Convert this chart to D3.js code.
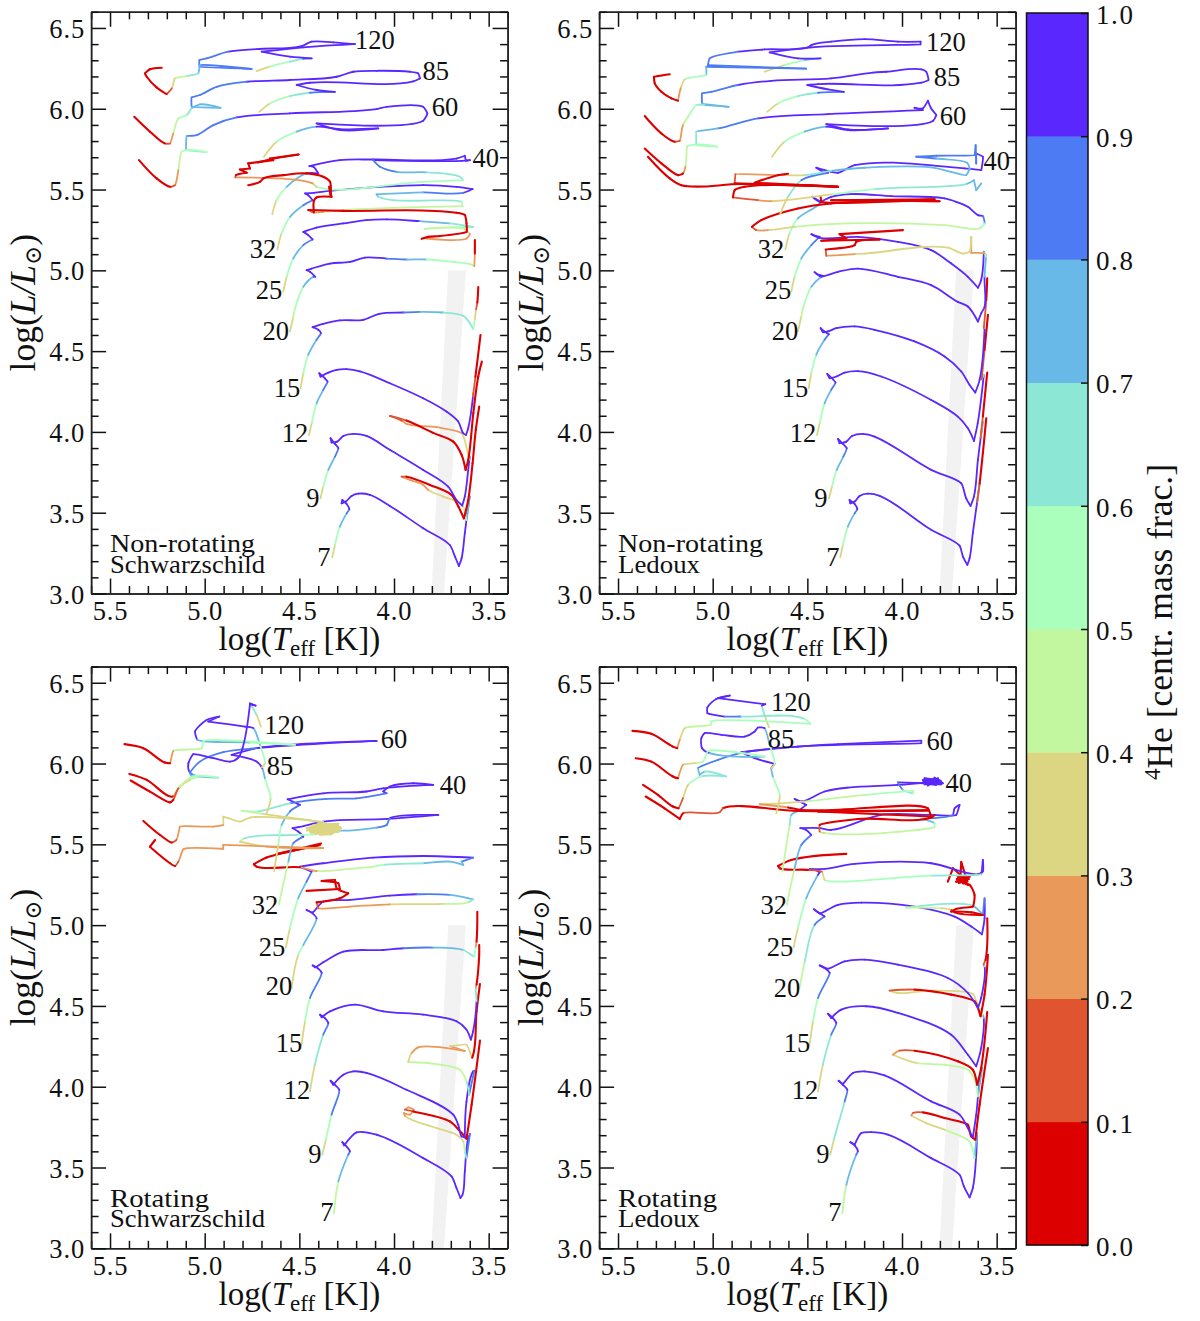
<!DOCTYPE html>
<html>
<head>
<meta charset="utf-8">
<script src="https://cdn.jsdelivr.net/npm/d3@7"></script>
<style>
  html, body { margin: 0; padding: 0; background: #fff; }
  svg { display: block; }
  text { font-family: "Liberation Serif", "DejaVu Serif", serif; fill: #111; }
</style>
</head>
<body>
<div id="chart"></div>
<script>
// each track point is [log Teff, log L, central He4]
const a7 = [[4.326,3.224,.28],[4.312,3.3,.45],[4.286,3.414,.7],[4.25,3.496,.85],[4.236,3.521,.95],[4.25,3.554,1],[4.273,3.579,1],[4.277,3.558,1],[4.254,3.569,1],[4.224,3.604,1],[4.189,3.618,1],[4.127,3.61,1],[4.022,3.542,1],[3.846,3.404,1],[3.705,3.3,1],[3.678,3.228,1],[3.657,3.17,1],[3.643,3.218,1],[3.626,3.373,1],[3.608,3.538,1],[3.6,3.6,1],[3.617,3.455,.5],[3.643,3.554,.4],[3.74,3.6,.35],[3.819,3.641,.25],[3.846,3.672,.25],[3.916,3.703,.22],[3.96,3.723,.2],[3.934,3.723,.1],[3.81,3.672,.05],[3.696,3.61,.03],[3.66,3.538,.03],[3.631,3.465,.02],[3.608,3.579,.02],[3.585,3.806,.02],[3.568,4.012,.01],[3.55,4.157,.01]];
const a9 = [[4.388,3.589,.28],[4.374,3.661,.45],[4.347,3.765,.7],[4.312,3.847,.85],[4.294,3.899,.95],[4.312,3.926,1],[4.335,3.961,1],[4.33,3.934,1],[4.3,3.94,1],[4.268,3.975,1],[4.215,3.988,1],[4.145,3.975,1],[4.022,3.889,1],[3.846,3.765,1],[3.714,3.661,1],[3.67,3.579,1],[3.64,3.544,1],[3.626,3.6,1],[3.608,3.765,1],[3.6,3.847,1],[3.604,3.827,.4],[3.643,3.992,.25],[3.775,4.029,.25],[3.934,4.05,.22],[3.96,4.07,.2],[4.022,4.099,.15],[3.934,4.07,.08],[3.793,3.994,.04],[3.687,3.94,.03],[3.643,3.858,.02],[3.622,3.765,.02],[3.608,3.827,.02],[3.581,4.116,.02],[3.555,4.343,.01],[3.536,4.435,.01]];
const a12 = [[4.449,3.981,.28],[4.435,4.054,.45],[4.409,4.177,.7],[4.374,4.26,.85],[4.351,4.312,.95],[4.365,4.332,1],[4.395,4.363,1],[4.388,4.342,1],[4.347,4.367,1],[4.303,4.384,1],[4.25,4.388,1],[4.18,4.374,1],[4.022,4.301,1],[3.846,4.208,1],[3.723,4.126,1],[3.661,4.064,1],[3.634,3.992,1],[3.62,3.981,1],[3.608,4.023,1],[3.581,4.239,1],[3.583,4.22,.25],[3.57,4.34,.05],[3.543,4.6,.01]];
const a15 = [[4.493,4.27,.28],[4.479,4.363,.45],[4.453,4.477,.7],[4.409,4.57,.85],[4.386,4.611,.95],[4.4,4.632,1],[4.43,4.648,1],[4.374,4.669,1],[4.286,4.69,1],[4.162,4.694,1],[4.078,4.731,1],[3.951,4.739,.85],[3.863,4.743,.75],[3.74,4.739,.65],[3.634,4.718,.63],[3.599,4.673,.6],[3.581,4.636,.6],[3.573,4.7,.45],[3.566,4.76,.28],[3.56,4.8,.05],[3.555,4.897,.01]];
const a20 = [[4.55,4.621,.28],[4.532,4.714,.45],[4.523,4.763,.5],[4.479,4.898,.68],[4.426,4.96,.85],[4.416,4.96,.95],[4.444,4.991,1],[4.462,5.001,1],[4.435,5.011,1],[4.338,5.042,1],[4.233,5.052,1],[4.154,5.079,1],[4.039,5.073,.95],[3.934,5.067,.8],[3.828,5.067,.6],[3.687,5.052,.55],[3.599,5.038,.5],[3.576,5.026,.4],[3.573,5.104,.02],[3.573,5.187,.01]];
const a25 = [[4.585,4.867,.28],[4.567,4.96,.45],[4.532,5.073,.62],[4.479,5.156,.8],[4.43,5.191,.95],[4.453,5.218,1],[4.479,5.238,1],[4.409,5.265,1],[4.268,5.29,1],[4.145,5.311,1],[4.039,5.315,1],[3.863,5.304,.85],[3.705,5.29,.72],[3.582,5.269,.65],[3.634,5.269,.55],[3.837,5.257,.45],[3.626,5.255,.42],[3.599,5.224,.28],[3.617,5.197,.25],[3.828,5.197,.25]];
const a32 = [[4.616,5.129,.28],[4.594,5.228,.45],[4.549,5.331,.62],[4.479,5.403,.8],[4.43,5.434,.95],[4.453,5.465,1],[4.47,5.476,1],[4.423,5.48,1],[4.338,5.492,1],[3.846,5.527,1],[3.67,5.517,1],[3.585,5.503,.9],[3.634,5.48,.9],[3.846,5.482,.82],[4.092,5.47,.75],[4.083,5.455,.68],[3.643,5.424,.58],[3.638,5.397,.5],[4.268,5.373,.42],[4.374,5.362,.3],[4.426,5.358,.25],[4.453,5.373,.12],[4.268,5.368,.03],[3.67,5.356,.02],[3.626,5.342,.02],[3.617,5.29,.02],[3.617,5.238,.02],[3.758,5.212,.02],[3.819,5.207,.02],[3.854,5.195,.02]];
const a40 = [[4.643,5.348,.28],[4.62,5.434,.45],[4.567,5.517,.6],[4.462,5.6,.85],[4.4,5.6,1],[4.426,5.641,1],[4.447,5.645,1],[4.286,5.682,1],[4.11,5.686,1],[3.67,5.692,1],[3.626,5.709,1],[3.62,5.678,1],[3.599,5.682,1],[3.643,5.678,1],[4.11,5.682,.95],[4.074,5.641,.85],[3.986,5.61,.78],[3.828,5.606,.72],[3.652,5.579,.65],[3.634,5.558,.62],[3.846,5.548,.55],[4.409,5.517,.45],[4.43,5.538,.28],[4.479,5.554,.25],[4.838,5.575,.2],[4.835,5.589,.05],[4.778,5.604,.04],[4.814,5.624,.04],[4.761,5.63,.04],[4.77,5.662,.03],[4.638,5.682,.03],[4.655,5.692,.03],[4.504,5.717,.02],[4.62,5.695,.02],[4.72,5.668,.02]];
const aLoop = [[4.77,5.527,.02],[4.708,5.548,.02],[4.69,5.569,.02],[4.585,5.589,.02],[4.462,5.6,.02],[4.374,5.579,.02],[4.338,5.548,.02],[4.335,5.465,.02],[4.342,5.517,.02],[4.33,5.455,.02],[4.409,5.451,.02],[4.423,5.43,.02],[4.423,5.358,.05]];
const a60 = [[4.687,5.703,.28],[4.62,5.796,.45],[4.514,5.858,.6],[4.409,5.889,.85],[4.286,5.874,1],[4.083,5.878,1],[4.286,5.868,1],[4.409,5.909,1],[3.846,5.926,1],[3.824,5.971,1],[3.846,6.012,1],[4.039,6.012,1],[4.092,5.998,1],[4.55,5.971,.97],[4.831,5.946,.92],[4.954,5.899,.85],[5.042,5.837,.82],[5.095,5.831,.8],[5.099,5.744,.65],[4.99,5.732,.58],[5.095,5.744,.55],[5.122,5.734,.5],[5.139,5.62,.35],[5.157,5.527,.15],[5.183,5.517,.05],[5.254,5.569,.03],[5.347,5.682,.02]];
const a85 = [[4.712,5.981,.28],[4.655,6.033,.45],[4.55,6.078,.6],[4.444,6.099,.75],[4.312,6.105,.85],[4.409,6.116,1],[4.514,6.147,1],[4.444,6.161,1],[3.898,6.169,1],[3.863,6.188,1],[3.872,6.219,1],[3.916,6.229,1],[4.092,6.235,1],[4.215,6.229,1],[4.303,6.198,1],[4.55,6.178,.97],[4.778,6.167,.92],[4.937,6.136,.85],[5.025,6.085,.82],[5.069,6.07,.82],[5.069,6.012,.8],[4.916,6.006,.75],[5.025,6.027,.75],[5.069,6.002,.7],[5.095,5.961,.55],[5.139,5.94,.5],[5.166,5.847,.3],[5.183,5.785,.15],[5.21,5.785,.05],[5.289,5.858,.03],[5.372,5.95,.02]];
const a120 = [[4.726,6.233,.28],[4.655,6.26,.45],[4.55,6.291,.6],[4.479,6.308,.75],[4.435,6.312,.9],[4.55,6.322,1],[4.699,6.353,1],[4.479,6.38,1],[4.206,6.4,1],[4.321,6.411,1],[4.435,6.415,1],[4.488,6.388,1],[4.726,6.369,.97],[4.875,6.353,.92],[4.99,6.312,.85],[5.028,6.301,.85],[5.028,6.26,.85],[4.752,6.246,.83],[5.025,6.27,.82],[5.034,6.219,.7],[5.095,6.202,.5],[5.157,6.188,.45],[5.174,6.126,.25],[5.201,6.091,.12],[5.254,6.132,.05],[5.306,6.198,.05],[5.315,6.219,.05],[5.289,6.244,.05],[5.227,6.254,.05]];

const b7 = [[4.326,3.224,.28],[4.312,3.3,.45],[4.286,3.414,.7],[4.25,3.496,.85],[4.236,3.521,.95],[4.25,3.554,1],[4.277,3.579,1],[4.273,3.558,1],[4.25,3.569,1],[4.224,3.604,1],[4.18,3.618,1],[4.118,3.604,1],[3.846,3.394,1],[3.696,3.296,1],[3.678,3.228,1],[3.655,3.177,1],[3.643,3.218,1],[3.626,3.373,1],[3.603,3.568,1],[3.59,3.682,1],[3.603,3.568,.25],[3.59,3.682,.02],[3.573,3.868,.02],[3.555,4.085,.01]];
const b9 = [[4.386,3.589,.28],[4.37,3.661,.45],[4.345,3.765,.7],[4.31,3.847,.85],[4.292,3.899,.95],[4.312,3.926,1],[4.338,3.957,1],[4.33,3.93,1],[4.294,3.94,1],[4.264,3.975,1],[4.206,3.988,1],[4.145,3.971,1],[3.846,3.765,1],[3.687,3.682,1],[3.661,3.589,1],[3.638,3.542,1],[3.62,3.6,1],[3.599,3.827,1],[3.573,4.064,1],[3.585,3.961,.25],[3.573,4.095,.02],[3.55,4.367,.01]];
const b12 = [[4.449,3.981,.28],[4.435,4.054,.45],[4.409,4.177,.7],[4.374,4.26,.85],[4.351,4.305,.95],[4.365,4.326,1],[4.395,4.359,1],[4.382,4.332,1],[4.347,4.343,1],[4.303,4.367,1],[4.233,4.376,1],[4.11,4.343,1],[3.846,4.198,1],[3.705,4.095,1],[3.652,4.023,1],[3.62,3.944,1],[3.6,4.054,1],[3.568,4.353,1],[3.579,4.326,.25],[3.564,4.508,.02],[3.546,4.725,.01]];
const b15 = [[4.493,4.27,.28],[4.479,4.363,.45],[4.453,4.477,.7],[4.409,4.57,.85],[4.386,4.605,.95],[4.409,4.622,1],[4.43,4.642,1],[4.418,4.617,1],[4.391,4.622,1],[4.347,4.642,1],[4.25,4.653,1],[4.145,4.632,1],[3.934,4.56,1],[3.775,4.467,1],[3.687,4.374,1],[3.643,4.291,1],[3.613,4.244,1],[3.59,4.322,1],[3.564,4.642,1],[3.568,4.642,.25],[3.555,4.817,.02],[3.55,4.95,.01]];
const b20 = [[4.55,4.621,.28],[4.532,4.714,.45],[4.523,4.764,.5],[4.479,4.898,.68],[4.426,4.96,.85],[4.416,4.966,.95],[4.435,4.97,1],[4.462,4.989,1],[4.43,4.962,1],[4.338,4.991,1],[4.233,5.011,1],[4.022,4.96,1],[3.846,4.908,1],[3.705,4.805,1],[3.652,4.776,1],[3.599,4.683,1],[3.581,4.735,1],[3.564,4.774,1],[3.564,4.96,1],[3.555,5.094,.5]];
const b25 = [[4.585,4.867,.28],[4.567,4.96,.45],[4.532,5.073,.62],[4.479,5.156,.8],[4.435,5.207,.95],[4.453,5.212,1],[4.479,5.224,1],[4.435,5.201,1],[4.233,5.207,1],[4.022,5.176,1],[3.846,5.125,1],[3.74,5.042,1],[3.652,4.96,1],[3.599,4.892,1],[3.582,4.939,1],[3.568,5.115,1],[3.555,5.084,.55],[3.564,5.104,.28],[3.634,5.108,.25],[3.634,5.207,.25],[3.643,5.115,.35],[3.678,5.104,.35],[3.758,5.141,.35],[4.197,5.104,.35],[4.25,5.1,.25],[4.4,5.09,.2],[4.403,5.129,.1],[4.25,5.156,.03],[4.242,5.176,.02],[4.118,5.191,.02],[4.426,5.183,.02],[4.294,5.197,.02],[4.33,5.224,.02],[3.995,5.249,.01]];
const b32 = [[4.616,5.129,.28],[4.594,5.228,.45],[4.55,5.321,.7],[4.444,5.403,.85],[4.426,5.424,.95],[4.444,5.434,1],[4.474,5.455,1],[4.435,5.424,1],[4.374,5.455,1],[4.268,5.472,1],[4.057,5.459,1],[3.775,5.445,1],[3.714,5.424,1],[3.652,5.393,1],[3.599,5.342,1],[3.573,5.335,1],[3.564,5.29,.6],[3.59,5.259,.5],[3.775,5.28,.48],[4.286,5.29,.46],[4.567,5.269,.42],[4.708,5.249,.3],[4.77,5.249,.15],[4.793,5.269,.05],[4.743,5.311,.02],[4.55,5.383,.02],[4.374,5.414,.02],[3.802,5.428,.02],[4.374,5.434,.02],[3.828,5.439,.02],[4.426,5.424,.02],[4.43,5.455,.02]];
const b40 = [[4.643,5.348,.28],[4.602,5.455,.5],[4.532,5.558,.7],[4.391,5.604,.95],[4.426,5.616,1],[4.453,5.635,1],[4.374,5.61,1],[4.338,5.604,1],[4.25,5.651,1],[3.67,5.631,1],[3.581,5.62,1],[3.573,5.703,1],[3.608,5.723,.85],[3.608,5.661,.85],[3.611,5.775,.85],[3.617,5.713,.85],[3.819,5.709,.85],[3.925,5.703,.85],[3.819,5.692,.78],[3.656,5.666,.75],[3.643,5.631,.75],[3.661,5.589,.78],[3.846,5.637,.78],[4.198,5.635,.75],[4.374,5.616,.7],[4.514,5.589,.5],[4.62,5.589,.25],[4.88,5.595,.2],[4.884,5.538,.05],[4.338,5.517,.02],[4.849,5.534,.02],[5.166,5.527,.03],[5.227,5.569,.03],[5.342,5.703,.03]];
const bTail = [[3.581,5.538,.75],[3.608,5.496,.75],[3.62,5.558,.75],[3.661,5.534,.72],[3.74,5.523,.65],[4.145,5.503,.62],[4.374,5.47,.45],[4.69,5.428,.3],[4.761,5.434,.15],[4.893,5.451,.05],[4.884,5.496,.03],[4.831,5.517,.02],[4.338,5.517,.02],[4.778,5.542,.02],[4.655,5.589,.02],[4.602,5.598,.02]];
const b60 = [[4.687,5.703,.28],[4.62,5.796,.45],[4.514,5.858,.62],[4.4,5.889,.9],[4.286,5.868,1],[4.074,5.878,1],[4.286,5.872,1],[4.4,5.905,1],[3.837,5.924,1],[3.819,5.961,1],[3.846,6.002,1],[3.863,6.05,1],[3.89,6.002,1],[3.934,6.006,1],[3.89,5.992,1],[4.391,5.967,1],[4.761,5.94,.85],[4.972,5.878,.75],[5.086,5.858,.68],[5.086,5.775,.62],[4.976,5.765,.55],[5.078,5.779,.55],[5.134,5.769,.5],[5.144,5.641,.3],[5.157,5.6,.12],[5.183,5.589,.05],[5.271,5.662,.03],[5.359,5.754,.02]];
const b85 = [[4.712,5.981,.28],[4.655,6.033,.45],[4.55,6.078,.6],[4.444,6.099,.75],[4.307,6.105,.85],[4.391,6.12,1],[4.5,6.147,1],[4.444,6.153,1],[3.898,6.161,1],[3.86,6.178,1],[3.872,6.229,1],[3.898,6.244,1],[4.083,6.229,1],[4.154,6.223,1],[4.374,6.188,1],[4.69,6.173,.93],[4.866,6.147,.88],[5.007,6.105,.85],[5.056,6.095,.85],[5.056,6.033,.78],[4.916,6.012,.75],[5.042,6.023,.72],[5.086,6.023,.65],[5.13,5.95,.5],[5.157,5.899,.4],[5.174,5.802,.15],[5.201,5.796,.05],[5.271,5.847,.03],[5.359,5.955,.02]];
const b120 = [[4.726,6.229,.28],[4.62,6.27,.45],[4.514,6.301,.6],[4.43,6.312,.8],[4.55,6.312,1],[4.699,6.349,1],[4.479,6.38,1],[3.902,6.398,1],[3.902,6.415,1],[4.022,6.415,1],[4.198,6.431,1],[4.374,6.415,1],[4.479,6.394,1],[4.497,6.38,1],[4.726,6.367,.97],[4.866,6.353,.93],[5.016,6.312,.85],[5.025,6.27,.85],[4.506,6.248,.83],[5.034,6.26,.82],[5.034,6.208,.6],[5.148,6.182,.47],[5.169,6.126,.3],[5.183,6.05,.12],[5.218,6.064,.05],[5.271,6.105,.03],[5.306,6.157,.03],[5.31,6.198,.03],[5.227,6.213,.03]];

const c7 = [[4.317,3.218,.28],[4.294,3.414,.6],[4.242,3.579,.85],[4.233,3.6,.95],[4.259,3.641,1],[4.273,3.657,1],[4.264,3.637,1],[4.198,3.717,1],[4.092,3.703,1],[3.846,3.558,1],[3.696,3.445,1],[3.67,3.373,1],[3.649,3.311,1],[3.638,3.331,1],[3.626,3.476,1],[3.608,3.682,1],[3.599,3.707,.9],[3.617,3.558,.7],[3.626,3.6,.5],[3.634,3.661,.4],[3.67,3.703,.38],[3.775,3.744,.35],[3.942,3.82,.3],[3.948,3.837,.25],[3.916,3.827,.25],[3.895,3.858,.22],[3.925,3.872,.22],[3.942,3.858,.22],[3.898,3.847,.12],[3.705,3.785,.05],[3.643,3.713,.03],[3.617,3.678,.03],[3.59,3.889,.02],[3.546,4.285,.01]];
const c9 = [[4.379,3.579,.28],[4.36,3.672,.45],[4.33,3.827,.68],[4.289,3.981,.93],[4.312,4.012,1],[4.335,4.037,1],[4.321,4.012,1],[4.268,4.074,1],[4.215,4.095,1],[4.145,4.085,1],[3.934,3.981,1],[3.687,3.827,1],[3.661,3.765,1],[3.643,3.692,1],[3.626,3.686,1],[3.617,3.909,1],[3.582,4.095,1],[3.576,4.099,.9],[3.603,3.95,.7],[3.617,4.033,.5],[3.652,4.105,.45],[3.775,4.14,.42],[3.925,4.153,.42],[3.907,4.208,.28],[3.872,4.244,.25],[3.626,4.221,.18],[3.703,4.251,.3],[3.617,4.26,.35],[3.588,4.179,.25],[3.586,4.182,.03],[3.564,4.466,.02],[3.546,4.636,.01]];
const c12 = [[4.444,3.971,.28],[4.418,4.136,.5],[4.374,4.322,.75],[4.347,4.394,.93],[4.365,4.425,1],[4.391,4.446,1],[4.382,4.429,1],[4.338,4.466,1],[4.206,4.508,1],[4.057,4.466,1],[3.846,4.446,1],[3.67,4.405,1],[3.617,4.353,1],[3.594,4.291,1],[3.582,4.343,1],[3.564,4.528,.85],[3.568,4.611,.45],[3.564,4.632,.05],[3.55,4.817,.01],[3.55,4.877,.01]];
const c15 = [[4.488,4.26,.28],[4.47,4.405,.45],[4.444,4.549,.7],[4.382,4.704,.92],[4.4,4.731,1],[4.43,4.751,1],[4.418,4.739,1],[4.374,4.77,1],[4.268,4.836,1],[4.057,4.846,1],[3.951,4.857,.95],[3.793,4.861,.8],[3.634,4.846,.72],[3.59,4.815,.65],[3.576,4.805,.65],[3.568,4.867,.45],[3.564,4.898,.05],[3.56,5.083,.01]];
const c20 = [[4.541,4.611,.28],[4.506,4.817,.5],[4.479,4.877,.65],[4.409,5.042,.85],[4.43,5.073,1],[4.462,5.094,1],[4.43,5.079,1],[4.374,5.146,1],[4.233,5.156,1],[4.022,5.183,.98],[3.881,5.191,.85],[3.705,5.187,.78],[3.582,5.16,.72],[3.608,5.141,.5],[3.74,5.131,.35],[4.022,5.129,.25],[4.233,5.115,.25],[4.4,5.104,.18],[4.409,5.141,.05],[4.286,5.166,.02],[4.242,5.197,.02],[4.303,5.228,.02],[4.312,5.28,.02],[4.382,5.273,.02],[4.294,5.259,.02],[4.286,5.224,.02],[4.462,5.212,.02]];
const c25 = [[4.571,4.861,.28],[4.55,4.98,.45],[4.506,5.166,.7],[4.462,5.269,.85],[4.435,5.331,.95],[4.479,5.352,1],[4.497,5.362,1],[4.374,5.383,1],[4.11,5.418,1],[3.846,5.428,1],[3.582,5.418,.95],[3.643,5.393,.8],[3.634,5.373,.78],[3.705,5.393,.78],[3.846,5.383,.72],[4.057,5.373,.55],[4.11,5.362,.5],[4.233,5.348,.48],[4.409,5.335,.42],[4.497,5.358,.05],[4.726,5.362,.02],[4.74,5.377,.02],[4.673,5.418,.02],[4.55,5.455,.02],[4.392,5.496,.01],[4.62,5.44,.01],[4.385,5.505,.01]];
const c32 = [[4.608,5.127,.28],[4.558,5.393,.7],[4.532,5.507,.8],[4.479,5.548,.95],[4.506,5.579,1],[4.536,5.6,1],[4.506,5.606,1],[4.374,5.641,1],[4.039,5.657,1],[3.766,5.682,1],[4.022,5.661,.95],[4.039,5.62,.85],[4.092,5.604,.78],[4.303,5.585,.72],[4.374,5.595,.35],[4.462,5.6,.35],[4.294,5.616,.35],[4.444,5.579,.35],[4.286,5.589,.35],[4.426,5.569,.35],[4.294,5.575,.35],[4.426,5.62,.35],[4.294,5.628,.35],[4.391,5.558,.35],[4.33,5.562,.35],[4.45,5.592,.35],[4.28,5.6,.35],[4.44,5.61,.35],[4.3,5.622,.35],[4.4,5.63,.35],[4.32,5.57,.35],[4.44,5.572,.35],[4.29,5.582,.35],[4.46,5.586,.35],[4.285,5.608,.35],[4.45,5.604,.35],[4.3,5.596,.35],[4.42,5.562,.35],[4.514,5.558,.72],[4.796,5.534,.55],[4.814,5.517,.42],[4.673,5.486,.25],[4.374,5.476,.25],[4.902,5.497,.25],[4.902,5.472,.25],[5.113,5.47,.25],[5.139,5.393,.15],[5.157,5.366,.08],[5.183,5.383,.03],[5.289,5.486,.03],[5.262,5.527,.03]];
const c40 = [[4.634,5.335,.28],[4.611,5.496,.5],[4.594,5.62,.68],[4.55,5.703,.85],[4.497,5.744,.95],[4.562,5.779,1],[4.374,5.816,1],[4.145,5.827,1],[4.057,5.847,1],[3.793,5.868,1],[3.898,5.878,1],[4.022,5.858,1],[4.057,5.827,1],[4.039,5.816,.88],[4.198,5.785,.85],[4.356,5.781,.85],[4.55,5.754,.75],[4.726,5.703,.62],[4.805,5.709,.5],[4.69,5.688,.35],[4.55,5.666,.35],[4.374,5.637,.35],[4.55,5.659,.35],[4.761,5.666,.35],[4.814,5.641,.35],[4.875,5.662,.35],[4.902,5.672,.35],[4.902,5.62,.3],[4.954,5.61,.25],[5.13,5.61,.25],[5.15,5.527,.15],[5.174,5.511,.05],[5.236,5.558,.03],[5.324,5.645,.03]];
const c60 = [[4.673,5.692,.28],[4.652,5.785,.42],[4.682,5.909,.68],[4.696,5.971,.88],[4.726,6.012,1],[4.858,6.054,1],[4.726,6.095,1],[4.497,6.12,1],[4.092,6.14,1],[4.347,6.126,1],[4.726,6.095,.95],[4.902,6.07,.85],[5.025,6.012,.82],[5.078,5.94,.78],[5.069,5.92,.75],[5.025,5.92,.55],[5.078,5.899,.45],[5.13,5.858,.28],[5.169,5.796,.12],[5.192,5.8,.05],[5.306,5.899,.03],[5.398,5.936,.02]];
const c85 = [[4.699,5.975,.28],[4.682,6.002,.42],[4.708,6.116,.6],[4.743,6.219,.85],[4.787,6.229,1],[4.981,6.26,1],[4.923,6.291,1],[4.99,6.27,1],[5.051,6.198,1],[5.039,6.147,.85],[4.761,6.13,.6],[4.523,6.116,.55],[5.007,6.14,.55],[5.016,6.095,.45],[5.166,6.078,.35],[5.183,6.002,.08],[5.21,6.006,.03],[5.324,6.095,.03],[5.424,6.12,.02]];
const c120 = [[4.703,6.229,.25],[4.726,6.301,.5],[4.761,6.373,.85],[4.731,6.359,1],[4.761,6.367,1],[4.8,6.095,1],[4.822,6.037,1],[4.866,6.012,1],[4.954,6.033,1],[5.06,6.058,1],[5.086,6.002,1],[5.081,5.95,.88],[5.06,5.93,.85],[4.928,5.913,.55],[5.06,5.92,.55],[5.139,5.847,.25],[5.166,5.775,.1],[5.183,5.76,.03],[5.289,5.826,.03],[5.391,5.895,.02]];

const d7 = [[4.315,3.218,.28],[4.294,3.393,.55],[4.242,3.579,.85],[4.233,3.6,.95],[4.25,3.637,1],[4.273,3.657,1],[4.25,3.641,1],[4.215,3.713,1],[4.162,3.719,1],[4.074,3.703,1],[3.846,3.558,1],[3.696,3.455,1],[3.673,3.383,1],[3.643,3.315,1],[3.626,3.373,1],[3.608,3.579,1],[3.604,3.713,1],[3.617,3.558,.55],[3.643,3.661,.45],[3.775,3.734,.42],[3.872,3.775,.35],[3.951,3.822,.3],[3.942,3.837,.2],[3.89,3.841,.08],[3.775,3.806,.03],[3.652,3.765,.03],[3.634,3.692,.03],[3.613,3.672,.03],[3.59,3.889,.02],[3.546,4.239,.01]];
const d9 = [[4.379,3.579,.28],[4.36,3.672,.45],[4.303,3.909,.8],[4.289,3.981,.93],[4.312,4.012,1],[4.335,4.037,1],[4.312,4.017,1],[4.259,4.085,1],[4.198,4.095,1],[4.092,4.07,1],[3.846,3.909,1],[3.696,3.827,1],[3.652,3.744,1],[3.626,3.686,1],[3.608,3.827,1],[3.582,4.095,1],[3.576,4.116,1],[3.599,3.94,.55],[3.617,4.043,.45],[3.652,4.105,.45],[3.775,4.136,.45],[3.925,4.147,.42],[4.048,4.198,.3],[4.013,4.223,.22],[3.934,4.223,.08],[3.705,4.157,.03],[3.626,4.105,.03],[3.603,4.012,.03],[3.582,4.116,.02],[3.55,4.462,.01]];
const d12 = [[4.444,3.971,.28],[4.418,4.136,.5],[4.374,4.322,.75],[4.347,4.394,.93],[4.365,4.425,1],[4.391,4.452,1],[4.374,4.425,1],[4.321,4.477,1],[4.189,4.498,1],[4.022,4.457,1],[3.74,4.322,1],[3.652,4.198,1],[3.608,4.126,1],[3.582,4.239,1],[3.568,4.425,1],[3.573,4.446,.5],[3.599,4.508,.35],[3.626,4.574,.35],[3.846,4.595,.35],[4.022,4.58,.35],[4.066,4.595,.25],[3.934,4.601,.05],[3.74,4.57,.03],[3.617,4.528,.03],[3.585,4.436,.03],[3.564,4.57,.02],[3.546,4.817,.01]];
const d15 = [[4.488,4.26,.28],[4.47,4.405,.45],[4.444,4.549,.7],[4.382,4.704,.92],[4.409,4.735,1],[4.435,4.751,1],[4.391,4.731,1],[4.303,4.776,1],[4.198,4.786,1],[4.022,4.755,1],[3.758,4.673,1],[3.652,4.58,1],[3.599,4.487,1],[3.582,4.549,1],[3.564,4.745,1],[3.569,4.755,.28],[3.559,4.784,.05],[3.55,5.042,.01]];
const d20 = [[4.541,4.611,.28],[4.514,4.774,.55],[4.462,5.001,.8],[4.409,5.053,.93],[4.435,5.073,1],[4.465,5.098,1],[4.435,5.073,1],[4.338,5.125,1],[4.215,5.139,1],[3.934,5.115,1],[3.722,5.053,1],[3.634,4.991,1],[3.578,4.943,1],[3.564,5.042,1],[3.564,5.166,1],[3.573,5.063,.75],[3.626,5.121,.65],[3.978,5.108,.55],[3.793,5.104,.38],[3.74,5.094,.3],[3.722,5.079,.05],[3.573,5.063,.03],[3.634,5.079,.03],[3.74,5.084,.03],[3.714,5.1,.03],[3.626,5.115,.03],[3.617,5.187,.02],[3.643,5.249,.02],[3.678,5.259,.02],[3.661,5.29,.02],[3.714,5.269,.02],[3.643,5.3,.02],[3.705,5.3,.02],[3.652,5.249,.02],[3.687,5.29,.02],[3.665,5.272,.02],[3.7,5.262,.02],[3.648,5.285,.02],[3.69,5.302,.02],[3.66,5.255,.02],[3.71,5.285,.02],[3.655,5.27,.02],[3.687,5.39,.02],[3.691,5.31,.02],[3.731,5.352,.02],[3.758,5.269,.02]];
const d25 = [[4.573,4.861,.28],[4.55,4.98,.45],[4.506,5.166,.7],[4.444,5.311,.88],[4.435,5.327,.95],[4.462,5.342,1],[4.488,5.346,1],[4.409,5.348,1],[4.25,5.379,1],[3.846,5.383,1],[3.599,5.315,1],[3.573,5.331,1],[3.573,5.404,1],[3.582,5.315,.8],[3.846,5.306,.55],[4.409,5.28,.45],[4.423,5.331,.25],[4.497,5.342,.08],[4.646,5.352,.02],[4.655,5.366,.02],[4.585,5.403,.02],[4.294,5.441,.01]];
const d32 = [[4.608,5.127,.28],[4.567,5.352,.6],[4.532,5.496,.8],[4.479,5.558,.95],[4.506,5.589,1],[4.537,5.6,1],[4.435,5.6,1],[4.374,5.589,1],[4.11,5.682,1],[3.846,5.682,1],[3.714,5.682,1],[3.696,5.744,1],[3.722,5.723,1],[3.731,5.682,.95],[3.898,5.657,.8],[3.828,5.631,.65],[3.828,5.606,.5],[4.409,5.569,.42],[4.435,5.579,.25],[4.435,5.62,.05],[4.233,5.657,.02],[3.846,5.666,.02],[3.828,5.682,.02]];
const d40 = [[4.632,5.331,.28],[4.594,5.62,.55],[4.585,5.682,.7],[4.541,5.713,.88],[4.506,5.744,.95],[4.567,5.781,1],[4.528,5.765,1],[4.409,5.827,1],[4.286,5.851,1],[4.022,5.868,1],[3.846,5.884,1],[3.89,5.899,1],[3.793,5.889,1],[3.881,5.872,1],[3.793,5.872,1],[3.89,5.884,1],[3.81,5.909,1],[3.863,5.864,1],[3.828,5.913,1],[3.784,5.878,1],[3.881,5.909,1],[3.8,5.896,1],[3.885,5.893,1],[3.795,5.882,1],[3.875,5.878,1],[3.82,5.868,1],[3.87,5.904,1],[3.81,5.902,1],[3.86,5.886,1],[3.8,5.875,1],[4.022,5.884,.95],[3.995,5.837,.75],[3.942,5.816,.6],[3.942,5.831,.55],[4.198,5.806,.5],[4.514,5.765,.42],[4.752,5.748,.25],[4.602,5.728,.15],[4.532,5.713,.02],[3.863,5.723,.02],[3.846,5.672,.02],[4.444,5.703,.02],[3.863,5.71,.02],[4.55,5.707,.03],[4.946,5.723,.12],[4.963,5.699,.12],[5.157,5.692,.12],[5.174,5.657,.05],[5.254,5.723,.03],[5.354,5.796,.03]];
const d60 = [[4.664,5.692,.28],[4.646,5.806,.45],[4.682,5.92,.68],[4.69,5.971,.85],[4.673,5.998,1],[4.778,6.033,1],[4.849,6.07,1],[4.55,6.105,1],[3.898,6.126,1],[3.898,6.142,1],[4.338,6.12,1],[4.55,6.105,.95],[4.831,6.07,.88],[4.972,6.023,.82],[5.078,5.971,.8],[5.069,5.93,.75],[5.042,5.95,.7],[4.928,5.92,.65],[5.06,5.92,.6],[5.13,5.868,.45],[5.157,5.785,.25],[5.18,5.723,.05],[5.21,5.734,.03],[5.289,5.806,.03],[5.368,5.868,.03]];
const d85 = [[4.69,5.971,.25],[4.673,5.996,.42],[4.699,6.116,.6],[4.726,6.219,.85],[4.761,6.223,1],[4.778,6.198,1],[4.831,6.167,1],[4.954,6.178,1],[5.042,6.188,1],[5.06,6.157,1],[5.056,6.095,1],[5.016,6.064,.85],[4.726,6.043,.55],[5.025,6.078,.55],[5.051,6.012,.45],[5.095,6.002,.35],[5.157,5.992,.32],[5.183,5.909,.1],[5.21,5.92,.03],[5.324,6.012,.03],[5.407,6.033,.03]];
const d120 = [[4.703,6.225,.25],[4.726,6.301,.5],[4.74,6.359,.85],[4.722,6.367,1],[4.972,6.405,1],[4.91,6.421,1],[4.981,6.4,1],[5.028,6.347,1],[5.028,6.312,1],[4.937,6.291,.9],[4.849,6.291,.8],[4.514,6.277,.55],[4.484,6.246,.55],[5.007,6.26,.55],[5.011,6.239,.45],[5.148,6.219,.42],[5.174,6.147,.3],[5.187,6.095,.1],[5.21,6.105,.03],[5.324,6.184,.03],[5.424,6.202,.03]];

// mass labels: [text, log Teff, log L]
const labelsA = [['120',4.101,6.425],['85',3.779,6.233],['60',3.731,6.01],['40',3.515,5.695],['32',4.692,5.132],['25',4.66,4.878],['20',4.624,4.624],['15',4.565,4.272],['12',4.523,3.993],['9',4.428,3.591],['7',4.37,3.226]];
const labelsB = [['120',3.768,6.413],['85',3.763,6.196],['60',3.731,5.955],['40',3.499,5.676],['32',4.692,5.132],['25',4.655,4.878],['20',4.618,4.624],['15',4.565,4.272],['12',4.523,3.993],['9',4.428,3.591],['7',4.365,3.226]];
const labelsC = [['120',4.581,6.238],['60',4,6.152],['85',4.602,5.985],['40',3.689,5.867],['32',4.682,5.124],['25',4.645,4.864],['20',4.608,4.623],['15',4.555,4.27],['12',4.513,3.98],['9',4.418,3.584],['7',4.354,3.225]];
const labelsD = [['120',4.587,6.381],['85',4.639,6.152],['60',3.8,6.139],['40',3.7,5.879],['32',4.677,5.124],['25',4.645,4.864],['20',4.608,4.611],['15',4.555,4.27],['12',4.513,3.98],['9',4.418,3.584],['7',4.354,3.225]];

// grey instability strip corners [log Teff, log L]
const strip = [[3.714,5],[3.62,5],[3.736,3],[3.802,3]];

const heEdges = [.1,.2,.3,.4,.5,.6,.7,.8,.9];
const heColors = ['#dd0000','#e05530','#e99a5a','#dcd682','#c2f79f','#a9ffbb','#8ce8d5','#68b9e8','#4d7bf4','#5a28ff'];
const heTicks = [0,.1,.2,.3,.4,.5,.6,.7,.8,.9,1];
const xMajor = [5.5,5,4.5,4,3.5];
const yMajor = [3,3.5,4,4.5,5,5.5,6,6.5];
const noteWidth = {'Non-rotating': 145, 'Schwarzschild': 155, 'Rotating': 99, 'Ledoux': 82};

const panels = [
  {dx: 0, dy: 0, tracks: [a7,a9,a12,a15,a20,a25,a32,a40,aLoop,a60,a85,a120], labels: labelsA, note: ['Non-rotating','Schwarzschild']},
  {dx: 508, dy: 0, tracks: [b7,b9,b12,b15,b20,b25,b32,b40,bTail,b60,b85,b120], labels: labelsB, note: ['Non-rotating','Ledoux']},
  {dx: 0, dy: 654.8, tracks: [c7,c9,c12,c15,c20,c25,c32,c40,c60,c85,c120], labels: labelsC, note: ['Rotating','Schwarzschild']},
  {dx: 508, dy: 654.8, tracks: [d7,d9,d12,d15,d20,d25,d32,d40,d60,d85,d120], labels: labelsD, note: ['Rotating','Ledoux']},
];

const width = 1200, height = 1321;
const svg = d3.select('#chart').append('svg').attr('width', width).attr('height', height);

const x = d3.scaleLinear().domain([5.6, 3.4]).range([91.1, 507.6]);
const y = d3.scaleLinear().domain([3, 6.6]).range([593.5, 11.8]);
const heColor = d3.scaleThreshold().domain(heEdges).range(heColors);

const minorOf = (lo, hi, major) => d3.range(Math.round(lo * 10), Math.round(hi * 10) + 1)
  .map(v => v / 10).filter(v => !major.includes(v));

// unit direction through a point, faded out at sharp corners
const tangent = (a, b, c) => {
  const ux = b[0] - a[0], uy = b[1] - a[1], vx = c[0] - b[0], vy = c[1] - b[1];
  const lu = Math.hypot(ux, uy), lv = Math.hypot(vx, vy);
  if (!lu || !lv) return [0, 0];
  const cos = (ux * vx + uy * vy) / (lu * lv);
  if (cos <= 0) return [0, 0];
  const wx = ux / lu + vx / lv, wy = uy / lu + vy / lv, lw = Math.hypot(wx, wy);
  return [wx / lw * cos, wy / lw * cos];
};
// one cubic piece per step of a track, so each can take its own colour
const trackPieces = track => {
  const pts = track.map(d => [x(d[0]), y(d[1])]);
  return d3.range(pts.length - 1).map(i => {
    const p0 = pts[Math.max(i - 1, 0)], p1 = pts[i], p2 = pts[i + 1], p3 = pts[Math.min(i + 2, pts.length - 1)];
    const len = Math.hypot(p2[0] - p1[0], p2[1] - p1[1]) * 0.33;
    const t1 = tangent(p0, p1, p2), t2 = tangent(p1, p2, p3);
    const path = d3.path();
    path.moveTo(p1[0], p1[1]);
    path.bezierCurveTo(p1[0] + t1[0] * len, p1[1] + t1[1] * len, p2[0] - t2[0] * len, p2[1] - t2[1] * len, p2[0], p2[1]);
    return {d: path.toString(), he: (track[i][2] + track[i + 1][2]) / 2};
  });
};

const drawAxes = g => {
  const h = y.range()[0], w = x.range()[1];
  const fmt = d3.format('.1f');
  const add = (axis, tr, major, len, labelled) => {
    const a = g.append('g').attr('transform', tr).call(axis.tickValues(major)
      .tickSizeInner(-len).tickSizeOuter(0).tickPadding(labelled ? 6 : 0)
      .tickFormat(labelled ? fmt : ''));
    a.selectAll('line').attr('stroke', '#111').attr('stroke-width', 1.5);
    a.select('.domain').attr('stroke', '#222').attr('stroke-width', 1.5);
    a.selectAll('text').attr('font-family', null).attr('font-size', 26.5).attr('letter-spacing', '0.9px').attr('fill', '#111');
    return a;
  };
  const xMinor = minorOf(3.4, 5.6, xMajor), yMinor = minorOf(3, 6.6, yMajor);
  add(d3.axisBottom(x), `translate(0,${h})`, xMajor, 15, true).selectAll('text').attr('dy', '.78em');
  add(d3.axisBottom(x), `translate(0,${h})`, xMinor, 7.5, false);
  add(d3.axisTop(x), `translate(0,${y.range()[1]})`, xMajor, 15, false);
  add(d3.axisTop(x), `translate(0,${y.range()[1]})`, xMinor, 7.5, false);
  add(d3.axisLeft(y), `translate(${x.range()[0]},0)`, yMajor, 15, true).selectAll('text').attr('dy', '.36em');
  add(d3.axisLeft(y), `translate(${x.range()[0]},0)`, yMinor, 7.5, false);
  add(d3.axisRight(y), `translate(${w},0)`, yMajor, 15, false);
  add(d3.axisRight(y), `translate(${w},0)`, yMinor, 7.5, false);
};

panels.forEach(p => {
  const g = svg.append('g').attr('transform', `translate(${p.dx},${p.dy})`);

  g.append('path')
    .attr('d', d3.line().x(d => x(d[0])).y(d => y(d[1])).curve(d3.curveLinearClosed)(strip))
    .attr('fill', '#f2f2f2');

  g.selectAll('g.track').data(p.tracks).join('g').attr('class', 'track')
    .selectAll('path').data(trackPieces).join('path')
    .attr('d', d => d.d)
    .attr('fill', 'none')
    .attr('stroke', d => heColor(d.he))
    .attr('stroke-width', d => d.he < .1 ? 2.1 : 1.8)
    .attr('stroke-linecap', 'round');

  g.selectAll('text.mass').data(p.labels).join('text').attr('class', 'mass')
    .attr('x', d => x(d[1])).attr('y', d => y(d[2]))
    .attr('text-anchor', 'middle').attr('dominant-baseline', 'central')
    .attr('font-size', 26.5)
    .text(d => d[0]);

  g.selectAll('text.note').data(p.note).join('text').attr('class', 'note')
    .attr('x', x(5.5)).attr('y', (d, i) => 552 + i * 20.5)
    .attr('font-size', 26)
    .attr('textLength', d => noteWidth[d]).attr('lengthAdjust', 'spacingAndGlyphs')
    .text(d => d);

  drawAxes(g);

  const xTitle = g.append('text').attr('x', (x.range()[0] + x.range()[1]) / 2).attr('y', 650)
    .attr('text-anchor', 'middle').attr('font-size', 33);
  xTitle.append('tspan').text('log(');
  xTitle.append('tspan').attr('font-style', 'italic').text('T');
  xTitle.append('tspan').attr('font-size', 23).attr('dy', 6).text('eff');
  xTitle.append('tspan').attr('dy', -6).text(' [K])');

  const yTitle = g.append('text')
    .attr('transform', `translate(${35},${y(4.8)}) rotate(-90)`)
    .attr('text-anchor', 'middle').attr('font-size', 35.5);
  yTitle.append('tspan').text('log(');
  yTitle.append('tspan').attr('font-style', 'italic').text('L/L');
  yTitle.append('tspan').attr('font-size', 23).attr('dy', 6).text('⊙');
  yTitle.append('tspan').attr('dy', -6).text(')');
});

// colour bar
const cb = d3.scaleLinear().domain([0, 1]).range([1245, 13]);
const cbar = svg.append('g');
cbar.selectAll('rect').data(heColors).join('rect')
  .attr('x', 1026.5).attr('width', 61.5)
  .attr('y', (d, i) => cb((i + 1) / 10)).attr('height', (d, i) => cb(i / 10) - cb((i + 1) / 10) + 0.4)
  .attr('fill', d => d);
cbar.append('rect').attr('x', 1026.5).attr('y', 13).attr('width', 61.5).attr('height', 1232)
  .attr('fill', 'none').attr('stroke', '#111').attr('stroke-width', 1.5);
const cbAxis = cbar.append('g').attr('transform', 'translate(1088,0)')
  .call(d3.axisRight(cb).tickValues(heTicks).tickSizeInner(-7).tickSizeOuter(0).tickPadding(8).tickFormat(d3.format('.1f')));
cbAxis.select('.domain').remove();
cbAxis.selectAll('line').attr('stroke', '#111').attr('stroke-width', 1.5);
cbAxis.selectAll('text').attr('font-family', null).attr('font-size', 27).attr('letter-spacing', '1.6px')
  .attr('dy', '.38em').attr('fill', '#111');

const cbTitle = svg.append('text')
  .attr('transform', 'translate(1172,622) rotate(-90)')
  .attr('text-anchor', 'middle').attr('font-size', 35.5);
cbTitle.append('tspan').attr('font-size', 23).attr('dy', -12).text('4');
cbTitle.append('tspan').attr('dy', 12).text('He [centr. mass frac.]');
</script>
</body>
</html>
